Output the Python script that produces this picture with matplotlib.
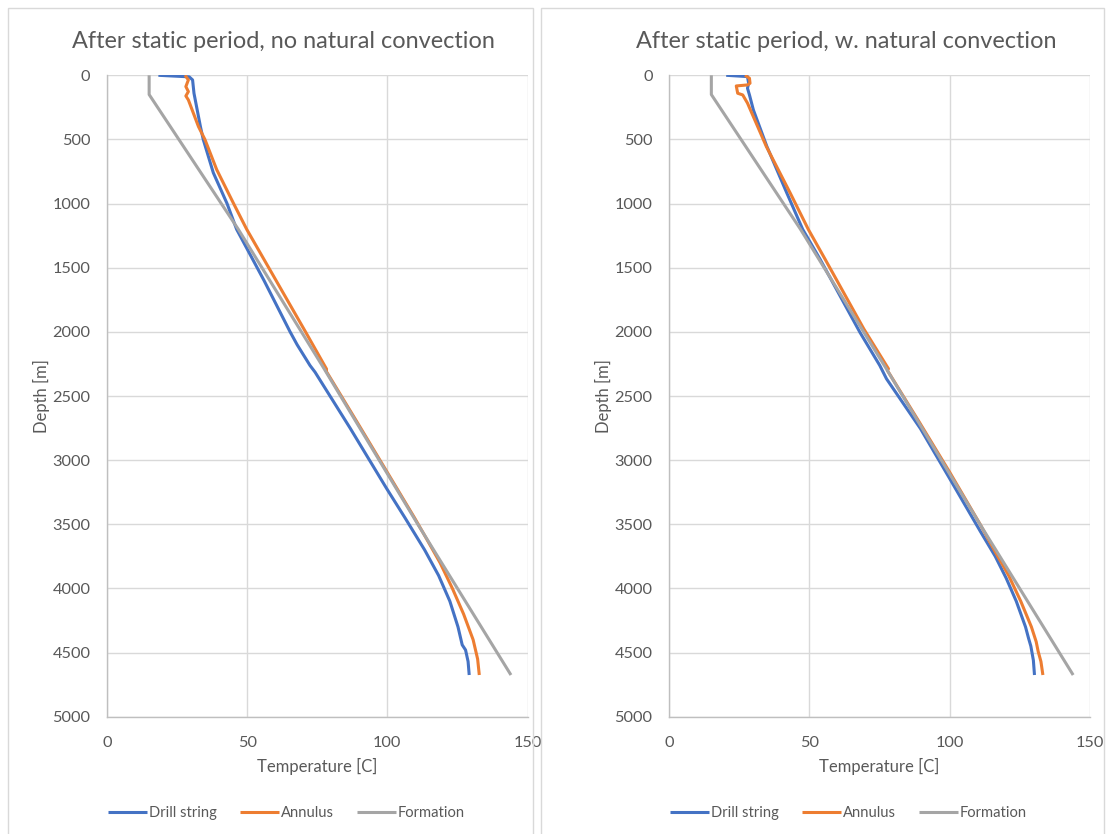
import matplotlib

matplotlib.use("Agg")
import matplotlib.pyplot as plt
from matplotlib.patches import Rectangle

plt.rcParams["font.family"] = ["Lato", "DejaVu Sans"]

# --- Datos (profundidad [m], temperatura [C]) ---
# Panel izquierdo: sin conveccion natural
ds_depth_l = [0, 12, 36, 140, 400, 500, 760, 1000, 1200, 1600, 2000, 2100, 2262, 2314,
              2750, 3220, 3450, 3700, 3900, 4100, 4300, 4440, 4480, 4570, 4675]
ds_temp_l = [18.3, 29.3, 30.5, 31.0, 33.3, 34.3, 37.9, 42.8, 46.2, 56.0, 65.3, 67.8, 72.4, 74.2,
             86.7, 99.7, 106.3, 113.3, 118.3, 122.3, 125.2, 126.7, 127.9, 128.8, 129.2]

an_depth_l = [0, 36, 88, 127, 161, 192, 400, 500, 735, 994, 1200, 1600, 2000, 2290,
              2300, 2700, 3100, 3450, 3610, 3800, 4000, 4200, 4400, 4550, 4675]
an_temp_l = [27.8, 29.0, 28.1, 29.0, 28.1, 29.0, 32.6, 34.9, 39.1, 45.0, 49.8, 60.3, 70.8, 78.3,
             78.0, 89.1, 100.1, 109.7, 113.9, 118.8, 123.2, 127.2, 130.6, 132.2, 132.8]

# Panel derecho: con conveccion natural
ds_depth_r = [0, 10, 62, 101, 153, 270, 554, 916, 1201, 1434, 2003, 2262, 2314, 2366,
              2754, 3142, 3556, 3750, 3920, 4100, 4300, 4390, 4450, 4560, 4675]
ds_temp_r = [20.3, 27.9, 28.3, 27.9, 28.6, 30.0, 34.8, 41.9, 47.6, 53.8, 68.0, 75.1, 76.3, 77.5,
             89.6, 100.0, 111.0, 116.3, 120.2, 123.8, 127.1, 128.2, 129.0, 129.9, 130.3]

an_depth_r = [0, 23, 62, 75, 83, 140, 153, 217, 554, 916, 1201, 1434, 1977, 2288,
              2300, 2700, 3100, 3500, 3711, 3900, 4100, 4300, 4415, 4490, 4570, 4675]
an_temp_r = [27.0, 28.6, 28.8, 27.9, 23.9, 24.4, 26.2, 27.9, 34.6, 43.1, 49.6, 55.6, 69.4, 78.2,
             77.8, 89.1, 100.2, 110.9, 116.2, 121.1, 125.4, 129.2, 130.9, 131.6, 132.6, 133.3]

# Formacion (igual en ambos paneles)
fm_depth = [0, 150, 1200, 2290, 3505, 4675]
fm_temp = [15.0, 15.0, 46.8, 77.5, 111.0, 144.1]

titles = ["After static period, no natural convection",
          "After static period, w. natural convection"]
series_labels = ["Drill string", "Annulus", "Formation"]
colors = ["#4472C4", "#ED7D31", "#A5A5A5"]
x_ticks = [0, 50, 100, 150]
y_ticks = list(range(0, 5001, 500))

TXT = "#595959"
GRID = "#d9d9d9"
W, H = 1111, 834

fig = plt.figure(figsize=(W / 100, H / 100), dpi=100)
fig.patch.set_facecolor("white")

panels = [
    dict(ax_left=107.1, box=(8, 533), title_x=283.5, leg_x=286.7,
         data=[(ds_temp_l, ds_depth_l), (an_temp_l, an_depth_l), (fm_temp, fm_depth)]),
    dict(ax_left=669.3, box=(541, 1104), title_x=846.0, leg_x=848.7,
         data=[(ds_temp_r, ds_depth_r), (an_temp_r, an_depth_r), (fm_temp, fm_depth)]),
]

for i, p in enumerate(panels):
    # borde del panel estilo Excel
    x0, x1 = p["box"]
    fig.add_artist(Rectangle((x0 / W, -0.01), (x1 - x0) / W, (H - 8) / H + 0.01,
                             transform=fig.transFigure, fill=False,
                             edgecolor=GRID, linewidth=1.0))

    ax = fig.add_axes([p["ax_left"] / W, 1 - 716.7 / H, 420.4 / W, 641.4 / H])
    handles = []
    for (t, d), c, lab in zip(p["data"], colors, series_labels):
        h, = ax.plot(t, d, color=c, linewidth=2.2, label=lab, solid_capstyle="butt")
        handles.append(h)

    ax.set_xlim(0, 150)
    ax.set_ylim(5000, 0)
    ax.set_xticks(x_ticks)
    ax.set_yticks(y_ticks)
    ax.grid(True, color=GRID, linewidth=1.0)
    ax.set_axisbelow(True)
    ax.tick_params(length=0, labelsize=11.8, labelcolor=TXT)
    ax.tick_params(axis="x", pad=14)
    ax.tick_params(axis="y", pad=12)
    for side in ("top", "right"):
        ax.spines[side].set_visible(False)
    for side in ("left", "bottom"):
        ax.spines[side].set_color("#bfbfbf")
        ax.spines[side].set_linewidth(1.0)
    ax.set_xlabel("Temperature [C]", fontsize=12, color=TXT, labelpad=5.5)
    ax.set_ylabel("Depth [m]", fontsize=12, color=TXT, labelpad=2)

    fig.text(p["title_x"] / W, 1 - 42 / H, titles[i], ha="center", va="center",
             fontsize=16.9, color=TXT)

    fig.legend(handles=handles, labels=series_labels, loc="center",
               bbox_to_anchor=(p["leg_x"] / W, 1 - 813 / H), ncol=3, frameon=False,
               fontsize=10.6, handlelength=2.6, handletextpad=0.15, columnspacing=1.6,
               labelcolor=TXT)

fig.savefig("out.png", dpi=100, facecolor="white")
plt.close(fig)
